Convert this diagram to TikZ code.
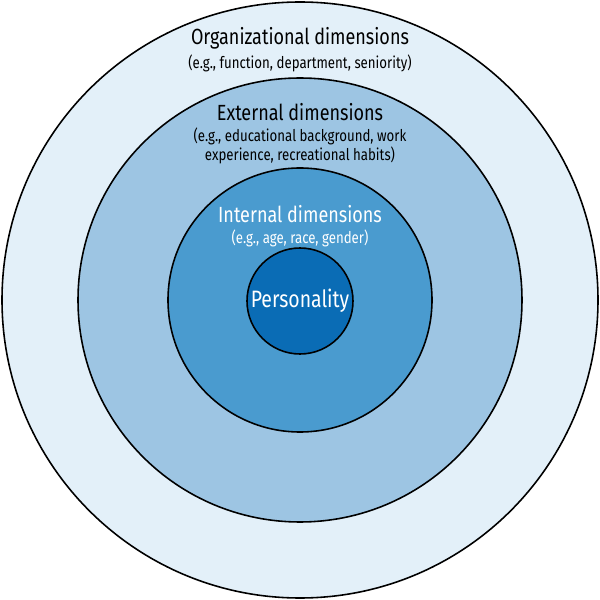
\documentclass[tikz,border=0pt]{standalone}
\usepackage{fontspec}
\setmainfont{Fira Sans}[FakeStretch=0.82]
\usepackage{xcolor}
\usetikzlibrary{positioning}

\definecolor{ringorg}{HTML}{E3F0F9}
\definecolor{ringext}{HTML}{9DC5E3}
\definecolor{ringint}{HTML}{4A9BCF}
\definecolor{ringpers}{HTML}{0A6CB5}

\begin{document}
\begin{tikzpicture}[
    ring/.style={draw=black, line width=0.9pt, circle, inner sep=0pt},
    title/.style={font=\fontsize{12.5}{15}\selectfont, inner sep=0pt},
    sub/.style={font=\fontsize{9.2}{11}\selectfont, align=center, inner sep=0pt}
  ]
    \useasboundingbox (0,0) rectangle (12,12);
    % Rings
    \node[ring, fill=ringorg, minimum size=11.92cm] (org) at (6,6) {};
    \node[ring, fill=ringext, minimum size=8.88cm] (ext) at (6,6) {};
    \node[ring, fill=ringint, minimum size=5.28cm] (int) at (6,6) {};
    \node[ring, fill=ringpers, minimum size=2.12cm] (pers) at (6,5.98) {};

    % Labels
    \node[title] (orgtitle) at (6,11.24) {Organizational dimensions};
    \node[sub, below=0.1cm of orgtitle] (orgsub) {(e.g., function, department, seniority)};
    \node[title] (exttitle) at (6,9.76) {External dimensions};
    \node[sub, below=0.12cm of exttitle] (extsub) {(e.g., educational background, work\\experience, recreational habits)};
    \node[title, white] (inttitle) at (6,7.72) {Internal dimensions};
    \node[sub, white, below=0.12cm of inttitle] (intsub) {(e.g., age, race, gender)};
    \node[font=\fontsize{13.5}{16}\selectfont, white] (perstitle) at (pers) {Personality};
\end{tikzpicture}
\end{document}
